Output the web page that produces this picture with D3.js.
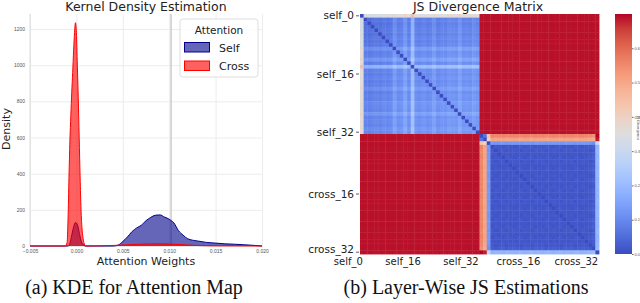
<!DOCTYPE html>
<html>
<head>
<meta charset="utf-8">
<script src="https://cdnjs.cloudflare.com/ajax/libs/d3/7.8.5/d3.min.js"></script>
<style>
body { margin: 0; background: #fff; }
svg { display: block; font-family: 'DejaVu Sans', sans-serif; }
.caption { font-family: 'Liberation Serif', 'Times New Roman', serif; font-size: 20px; fill: #111; }
.tiny text { font-size: 5px; fill: #555; }
</style>
</head>
<body>
<svg id="chart" width="640" height="303"></svg>
<script>
// KDE panel
const xTicks = [-0.005, 0.000, 0.005, 0.010, 0.015, 0.020]
const yTicks = [0, 200, 400, 600, 800, 1000, 1200]
const meanLine = 0.0102
const seriesNames = ['Self', 'Cross']

const selfX = [-0.0050, -0.0009, -0.0007, -0.0005, -0.0003, -0.0001, 0.0001, 0.0003, 0.0005, 0.0007, 0.0010,
  0.0040, 0.0045, 0.0050, 0.0055, 0.0060, 0.0065, 0.0070, 0.0075, 0.0080, 0.0085, 0.0090, 0.0095, 0.0100,
  0.0105, 0.0110, 0.0115, 0.0120, 0.0130, 0.0140, 0.0150, 0.0160, 0.0170, 0.0180, 0.0190, 0.0200]
const selfDensity = [0, 0, 15, 60, 105, 130, 120, 75, 30, 8, 0,
  0, 5, 25, 50, 80, 100, 115, 140, 158, 170, 172, 160, 148,
  128, 85, 60, 40, 28, 20, 16, 12, 10, 7, 4, 0]

const crossX = [-0.0050, -0.0012, -0.0010, -0.0009, -0.0008, -0.0007, -0.0006, -0.0005, -0.0004, -0.0003,
  -0.0002, -0.0001, 0.0000, 0.0001, 0.0002, 0.0003, 0.0004, 0.0005, 0.0006, 0.0007, 0.0008, 0.0010,
  0.0025, 0.0045, 0.0065, 0.0085, 0.0105, 0.0125, 0.0145, 0.0200]
const crossDensity = [0, 0, 20, 150, 380, 580, 720, 850, 960, 1080,
  1180, 1235, 1180, 1000, 820, 600, 380, 200, 100, 50, 20, 0,
  1, 4, 9, 12, 10, 4, 1, 0]

// JS divergence panel
const nLayers = 33
const tickLayers = ['self_0', 'self_16', 'self_32', 'cross_16', 'cross_32']
const colorTicks = [0, 0.1, 0.2, 0.3, 0.4, 0.5, 0.6]
const selfCrossJS = 0.69
const crossBase = 0.012
const selfSpread = [0.30, 0.03, 0.025, 0.03, 0.035, 0.03, 0.04, 0.035, 0.04, 0.08, 0.05, 0.055, 0.09,
  0.05, 0.15, 0.055, 0.05, 0.06, 0.05, 0.055, 0.08, 0.05, 0.06, 0.055, 0.07, 0.065, 0.06, 0.09,
  0.06, 0.065, 0.06, 0.075, 0.065]
const crossPos = [0.55, 0.50, 0.12, 0.00, 0.01, 0.005, 0.00, 0.01, 0.005, 0.00, 0.005, 0.01, 0.00,
  0.005, 0.01, 0.00, 0.005, 0.00, 0.01, 0.005, 0.00, 0.005, 0.01, 0.00, 0.005, 0.00, 0.01,
  0.005, 0.00, 0.005, 0.01, 0.02, -0.17]

const coolwarmColors = ['#3b4cc0', '#4d68d7', '#6282ea', '#779af7', '#8db0fe', '#a3c2ff', '#b8d0f9',
  '#ccd9ee', '#dddddd', '#ecd3c5', '#f5c4ac', '#f7b194', '#f49a7b', '#ec7f63', '#de604d', '#cb3e38', '#b40426']

const svg = d3.select('#chart')

const drawKde = () => {
  const x = d3.scaleLinear().domain([-0.005, 0.020]).range([30, 262])
  const y = d3.scaleLinear().domain([0, 1200]).range([246, 29])
  const g = svg.append('g')

  const gx = g.append('g').attr('class', 'tiny').attr('transform', 'translate(0,246)')
    .call(d3.axisBottom(x).tickValues(xTicks).tickFormat(d3.format('.3f')).tickSizeInner(-232).tickSizeOuter(0).tickPadding(3))
  const gy = g.append('g').attr('class', 'tiny').attr('transform', 'translate(30,0)')
    .call(d3.axisLeft(y).tickValues(yTicks).tickSizeInner(-232).tickSizeOuter(0).tickPadding(5).tickFormat(d3.format('d')))
  gx.select('.domain').remove()
  gy.select('.domain').remove()
  g.selectAll('.tick line').attr('stroke', '#ececec')

  g.append('line').attr('x1', 30).attr('x2', 30).attr('y1', 14).attr('y2', 246).attr('stroke', '#dcdcdc')
  g.append('line').attr('x1', 30).attr('x2', 263).attr('y1', 246).attr('y2', 246).attr('stroke', '#dcdcdc')
  g.append('line').attr('x1', x(meanLine)).attr('x2', x(meanLine)).attr('y1', 14).attr('y2', 246)
    .attr('stroke', '#c4c4c4').attr('stroke-width', 1.3)

  const area = d3.area().x(d => x(d[0])).y0(y(0)).y1(d => y(d[1])).curve(d3.curveMonotoneX)
  const line = d3.line().x(d => x(d[0])).y(d => y(d[1])).curve(d3.curveMonotoneX)
  const selfPts = d3.zip(selfX, selfDensity)
  const crossPts = d3.zip(crossX, crossDensity)

  g.append('path').datum(selfPts).attr('d', area).attr('fill', '#00008b').attr('fill-opacity', 0.6)
  g.append('path').datum(selfPts).attr('d', line).attr('fill', 'none').attr('stroke', '#00008b').attr('stroke-width', 1)
  g.append('path').datum(crossPts).attr('d', area).attr('fill', '#ff0000').attr('fill-opacity', 0.62)
  g.append('path').datum(crossPts).attr('d', line).attr('fill', 'none').attr('stroke', '#ff0000').attr('stroke-width', 1)

  g.append('text').attr('x', 146).attr('y', 10.5).attr('text-anchor', 'middle')
    .style('font-size', '12.5px').attr('fill', '#222').text('Kernel Density Estimation')
  g.append('text').attr('transform', 'translate(10,129) rotate(-90)').attr('text-anchor', 'middle')
    .style('font-size', '11px').attr('fill', '#222').text('Density')
  g.append('text').attr('x', 146).attr('y', 265).attr('text-anchor', 'middle')
    .style('font-size', '11px').attr('fill', '#222').text('Attention Weights')

  // legend
  const lg = g.append('g')
  lg.append('rect').attr('x', 180).attr('y', 19).attr('width', 78).attr('height', 58).attr('rx', 3)
    .attr('fill', '#fff').attr('fill-opacity', 0.85).attr('stroke', '#dddddd')
  lg.append('text').attr('x', 219).attr('y', 33.5).attr('text-anchor', 'middle')
    .style('font-size', '10.5px').attr('fill', '#222').text('Attention')
  const swatch = [{ fill: '#00008b', op: 0.6 }, { fill: '#ff0000', op: 0.62 }]
  seriesNames.forEach((name, i) => {
    lg.append('rect').attr('x', 184.5).attr('y', 42.5 + i * 18.5).attr('width', 25).attr('height', 9.5)
      .attr('fill', swatch[i].fill).attr('fill-opacity', swatch[i].op).attr('stroke', swatch[i].fill)
    lg.append('text').attr('x', 219).attr('y', 51.5 + i * 18.5)
      .style('font-size', '11px').attr('fill', '#222').text(name)
  })

  svg.append('text').attr('class', 'caption').attr('x', 134).attr('y', 294).attr('text-anchor', 'middle')
    .text('(a) KDE for Attention Map')
}

const jsValue = (i, j) => {
  if (i === j) return 0
  const si = i < nLayers
  const sj = j < nLayers
  if (si !== sj) return selfCrossJS
  if (si) return selfSpread[i] + selfSpread[j]
  return crossBase + Math.abs(crossPos[i - nLayers] - crossPos[j - nLayers])
}

const drawHeatmap = () => {
  const layers = []
  for (let i = 0; i < nLayers; i++) layers.push('self_' + i)
  for (let i = 0; i < nLayers; i++) layers.push('cross_' + i)

  const coolwarm = d3.piecewise(d3.interpolateRgb, coolwarmColors)
  const color = d3.scaleSequential(coolwarm).domain([0, 0.7]).clamp(true)
  const xb = d3.scaleBand().domain(layers).range([360, 599])
  const yb = d3.scaleBand().domain(layers).range([14, 254])

  const cells = []
  layers.forEach((r, i) => layers.forEach((c, j) => cells.push({ r, c, v: jsValue(i, j) })))

  const g = svg.append('g')
  g.selectAll('rect.cell').data(cells).enter().append('rect')
    .attr('class', 'cell')
    .attr('x', d => xb(d.c))
    .attr('y', d => yb(d.r))
    .attr('width', xb.bandwidth() + 0.4)
    .attr('height', yb.bandwidth() + 0.4)
    .attr('fill', d => color(d.v))

  g.selectAll('text.row').data(tickLayers).enter().append('text')
    .attr('class', 'row')
    .attr('x', 354).attr('y', (d, i) => yb(d) + yb.bandwidth() / 2 - (i === 4 ? 2.5 : 0)).attr('dy', '0.35em')
    .attr('text-anchor', 'end').style('font-size', '10.5px').attr('fill', '#222').text(d => d)
  g.selectAll('line.rowtick').data(tickLayers).enter().append('line')
    .attr('x1', 356).attr('x2', 359).attr('y1', d => yb(d) + yb.bandwidth() / 2).attr('y2', d => yb(d) + yb.bandwidth() / 2)
    .attr('stroke', '#333').attr('stroke-width', 0.8)
  g.selectAll('text.col').data(tickLayers).enter().append('text')
    .attr('class', 'col')
    .attr('x', d => xb(d) + xb.bandwidth() / 2 + 1).attr('y', 265)
    .attr('text-anchor', 'end').style('font-size', '10px').attr('fill', '#222').text(d => d)

  g.append('text').attr('x', 478).attr('y', 10.5).attr('text-anchor', 'middle')
    .style('font-size', '12.5px').attr('fill', '#222').text('JS Divergence Matrix')

  // colorbar
  const defs = svg.append('defs')
  const grad = defs.append('linearGradient').attr('id', 'cw').attr('x1', 0).attr('y1', 1).attr('x2', 0).attr('y2', 0)
  coolwarmColors.forEach((c, i) => {
    grad.append('stop').attr('offset', i / (coolwarmColors.length - 1)).attr('stop-color', c)
  })
  g.append('rect').attr('x', 615).attr('y', 14).attr('width', 17).attr('height', 240).attr('fill', 'url(#cw)')
  const cy = d3.scaleLinear().domain([0, 0.7]).range([254, 14])
  const gc = g.append('g').attr('class', 'tiny').attr('transform', 'translate(632,0)')
    .call(d3.axisRight(cy).tickValues(colorTicks).tickSize(1.5).tickPadding(1).tickFormat(d3.format('.1f')))
  gc.select('.domain').remove()
  gc.selectAll('text').style('font-size', '4px')
  gc.selectAll('line').attr('stroke', '#666')
  g.append('text').attr('transform', 'translate(636.5,128) rotate(90)').attr('text-anchor', 'middle')
    .style('font-size', '3.5px').attr('fill', '#555').text('JS Divergence')

  svg.append('text').attr('class', 'caption').attr('x', 466).attr('y', 294).attr('text-anchor', 'middle')
    .text('(b) Layer-Wise JS Estimations')
}

drawKde()
drawHeatmap()
</script>
</body>
</html>
